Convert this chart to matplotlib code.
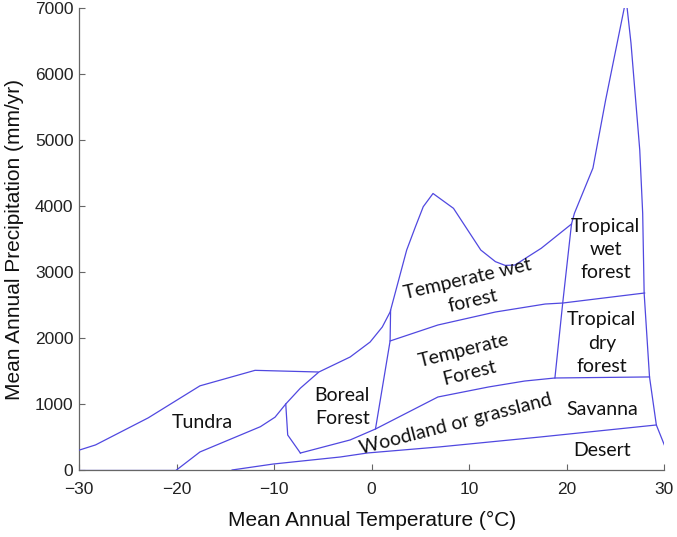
# biome_diagram.py

"""Whittaker-style biome diagram: temperature vs precipitation"""

import numpy as np
import matplotlib
matplotlib.use("Agg")
import matplotlib.pyplot as plt

# boundary lines (temperature in degC, precipitation in mm/yr)
tundra_top_t = [-30, -28.3, -22.9, -17.6, -11.95, -5.5]
tundra_top_p = [300, 380, 790, 1275, 1510, 1485]

base_t = [-30, -20]
base_p = [0, 0]

# tundra bottom -> boreal top -> temperate wet top
ridge_t = [-20, -17.6, -11.4, -9.9, -8.8, -7.3, -5.4, -2.2, -0.15, 1.1, 1.9,
           3.6, 4.5, 5.3, 6.3, 8.4, 11.2, 12.7, 13.7, 14.7, 17.4, 20.5]
ridge_p = [0, 273, 656, 800, 1000, 1240, 1485, 1712, 1939, 2167, 2394,
           3333, 3687, 3990, 4190, 3965, 3333, 3157, 3100, 3106, 3360, 3727]

# tropical left boundary, peak and right edge
tropic_t = [18.8, 19.6, 20.5, 20.8, 22.7, 24.0, 26.1, 26.6, 27.5, 27.8,
            27.95, 28.5, 29.2, 30.1]
tropic_p = [1394, 2530, 3727, 3890, 4575, 5606, 7140, 6470, 4848, 3890,
            2680, 1410, 682, 350]

wet_dry_t = [1.9, 6.8, 12.7, 17.8, 19.6, 28.0]
wet_dry_p = [1955, 2197, 2394, 2515, 2530, 2682]

temp_left_t = [1.95, 1.9, 0.4]
temp_left_p = [2420, 1955, 621]

boreal_left_t = [-8.8, -8.6, -7.3]
boreal_left_p = [1000, 530, 257]

woodland_top_t = [-7.3, -2.2, 0.4, 6.8, 12.0, 15.7, 18.8, 28.5]
woodland_top_p = [257, 455, 621, 1106, 1258, 1348, 1394, 1410]

desert_top_t = [-14.3, -10.1, -3.2, -0.4, 7.0, 17.3, 29.2]
desert_top_p = [0, 90, 197, 258, 350, 500, 682]

# region names with position and rotation
labels = ["Tundra", "Boreal\nForest", "Temperate wet\nforest", "Temperate\nForest",
          "Woodland or grassland", "Tropical\nwet\nforest", "Tropical\ndry\nforest",
          "Savanna", "Desert"]
label_t = [-17.4, -3.0, 10.1, 9.7, 8.6, 24.0, 23.6, 23.6, 23.6]
label_p = [712, 955, 2727, 1636, 700, 3340, 1924, 909, 288]
label_rot = [0, 0, 13, 14, 14.5, 0, 0, 0, 0]

fig = plt.figure(figsize=(6.77, 5.37), dpi=100)
ax = fig.add_axes([0.1167, 0.1248, 0.8643, 0.8602])

line_color = "#5048e0"
lines = [(tundra_top_t, tundra_top_p), (base_t, base_p), (ridge_t, ridge_p),
         (tropic_t, tropic_p), (wet_dry_t, wet_dry_p), (temp_left_t, temp_left_p),
         (boreal_left_t, boreal_left_p), (woodland_top_t, woodland_top_p),
         (desert_top_t, desert_top_p)]
for t, p in lines:
    ax.plot(t, p, color=line_color, lw=0.9, zorder=3)

for name, t, p, r in zip(labels, label_t, label_p, label_rot):
    ax.text(t, p, name, ha="center", va="center", rotation=r,
            rotation_mode="anchor", family="Lato", fontsize=14,
            color="#111111", linespacing=1.45)

ax.set_xlim(-30, 30)
ax.set_ylim(0, 7000)
ax.set_xticks(np.arange(-30, 31, 10))
ax.set_yticks(np.arange(0, 7001, 1000))

for s in ["top", "right"]:
    ax.spines[s].set_visible(False)
for s in ["left", "bottom"]:
    ax.spines[s].set_color("#666666")
    ax.spines[s].set_linewidth(0.9)
ax.tick_params(direction="in", length=4, color="#666666", labelsize=12.5,
               labelcolor="#222222")
ax.tick_params(axis="x", pad=9)
ax.tick_params(axis="y", pad=4)
for lab in ax.get_xticklabels() + ax.get_yticklabels():
    lab.set_family("Liberation Sans")

ax.set_xlabel("Mean Annual Temperature (\u00b0C)", family="Liberation Sans",
              fontsize=15, color="#111111", labelpad=10)
ax.set_ylabel("Mean Annual Precipitation (mm/yr)", family="Liberation Sans",
              fontsize=15, color="#111111", labelpad=8)

fig.savefig("out.png", dpi=100)
